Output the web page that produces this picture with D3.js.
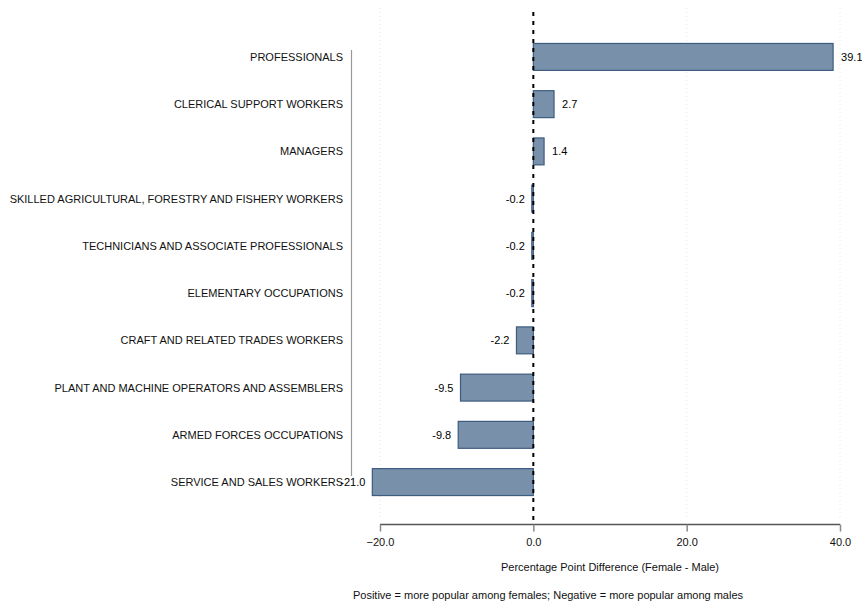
<!DOCTYPE html>
<html><head><meta charset="utf-8">
<script src="https://cdn.jsdelivr.net/npm/d3@7"></script>
<style>body{margin:0;background:#fff;}text{font-family:"Liberation Sans",Arial,sans-serif;}</style>
</head><body><svg id="c" width="862" height="602"></svg>
<script>
const categories = ["PROFESSIONALS","CLERICAL SUPPORT WORKERS","MANAGERS","SKILLED AGRICULTURAL, FORESTRY AND FISHERY WORKERS","TECHNICIANS AND ASSOCIATE PROFESSIONALS","ELEMENTARY OCCUPATIONS","CRAFT AND RELATED TRADES WORKERS","PLANT AND MACHINE OPERATORS AND ASSEMBLERS","ARMED FORCES OCCUPATIONS","SERVICE AND SALES WORKERS"];
const values = [39.1,2.7,1.4,-0.2,-0.2,-0.2,-2.2,-9.5,-9.8,-21.0];
const xTicks = [-20,0,20,40];
const xTitle = "Percentage Point Difference (Female - Male)";
const note = "Positive = more popular among females; Negative = more popular among males";

const svg = d3.select("#c");
const x = d3.scaleLinear().domain([-20,40]).range([380,840]);
const y = d3.scaleBand().domain(categories).range([34,505]).paddingInner(0.43).paddingOuter(0.2);

// gridlines
svg.append("g").selectAll("line").data(xTicks.filter(d=>d!==0)).join("line")
  .attr("x1",d=>x(d)).attr("x2",d=>x(d)).attr("y1",8).attr("y2",518)
  .attr("stroke","#e6e6e6").attr("stroke-width",1).attr("stroke-dasharray","1,3");

// bars
svg.append("g").selectAll("rect").data(values).join("rect")
  .attr("x",(d)=>x(Math.min(0,d))).attr("width",d=>Math.abs(x(d)-x(0)))
  .attr("y",(d,i)=>y(categories[i])).attr("height",y.bandwidth())
  .attr("fill","#7890a9").attr("stroke","#3e5c80").attr("stroke-width",1.2);

// zero line
svg.append("line").attr("x1",x(0)).attr("x2",x(0)).attr("y1",12).attr("y2",525)
  .attr("stroke","#000").attr("stroke-width",2).attr("stroke-dasharray","4,5");

// value labels
svg.append("g").selectAll("text").data(values).join("text")
  .attr("x",d=>d>=0? x(d)+8 : x(d)-7)
  .attr("y",(d,i)=>y(categories[i])+y.bandwidth()/2+4)
  .attr("text-anchor",d=>d>=0?"start":"end")
  .attr("font-size",11).attr("fill","#000")
  .text(d=>d.toFixed(1));

// y axis line
svg.append("line").attr("x1",351.5).attr("x2",351.5).attr("y1",50).attr("y2",476)
  .attr("stroke","#999").attr("stroke-width",1.2);
// category labels
svg.append("g").selectAll("text").data(categories).join("text")
  .attr("x",343).attr("y",d=>y(d)+y.bandwidth()/2+4)
  .attr("text-anchor","end").attr("font-size",11).attr("fill","#111").text(d=>d);

// x axis
const xa = svg.append("g").attr("transform","translate(0,524.5)")
  .call(d3.axisBottom(x).tickValues(xTicks).tickSize(7).tickPadding(7).tickFormat(d3.format(".1f")));
xa.select(".domain").attr("stroke","#555").attr("stroke-width",1.5).attr("d","M380,0H840");
xa.selectAll(".tick line").attr("stroke","#888").attr("stroke-width",1.5);
xa.selectAll("text").attr("font-size",11).attr("fill","#111").attr("font-family","Liberation Sans, Arial, sans-serif");

svg.append("text").attr("x",610).attr("y",571).attr("text-anchor","middle").attr("font-size",11).attr("fill","#111").text(xTitle);
svg.append("text").attr("x",548).attr("y",599).attr("text-anchor","middle").attr("font-size",11).attr("fill","#111").text(note);
</script></body></html>
